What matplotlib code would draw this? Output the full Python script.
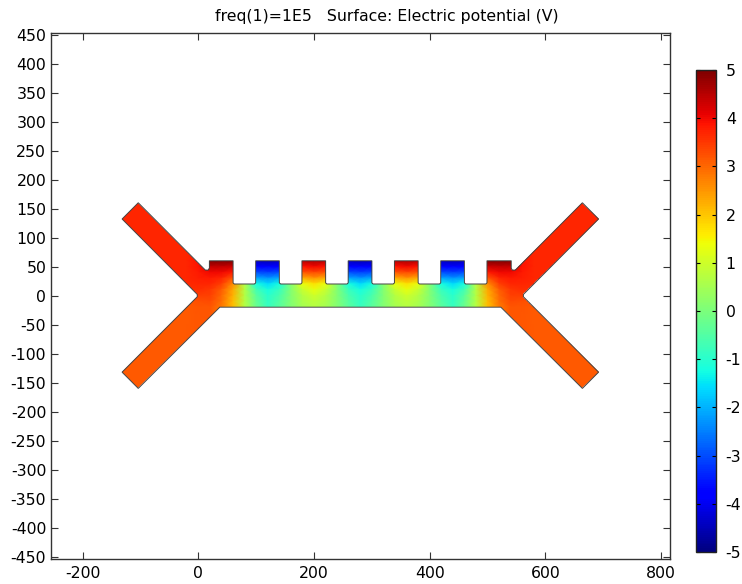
import numpy as np
from matplotlib import pyplot as plt
from matplotlib.patches import Polygon

plt.rcParams['font.family'] = 'DejaVu Sans'
plt.rcParams['axes.unicode_minus'] = False

title = "freq(1)=1E5   Surface: Electric potential (V)"
x_ticks = [-200, 0, 200, 400, 600, 800]
y_ticks = [-450, -400, -350, -300, -250, -200, -150, -100, -50, 0,
           50, 100, 150, 200, 250, 300, 350, 400, 450]
cbar_ticks = [-5, -4, -3, -2, -1, 0, 1, 2, 3, 4, 5]

# device outline, left half then right half (um)
outline_x = [-132, -104, 10, 12, 17, 19, 19, 60, 60, 62, 97, 99, 99, 140, 140, 142, 177, 179, 179, 220, 220, 222,
             257, 259, 259, 300, 300, 302, 337, 339, 339, 380, 380, 382, 417, 419, 419, 460, 460, 462, 497, 499,
             499, 541, 541, 543, 548, 550, 664, 692, 562, 562, 692, 664, 523, 37, -104, -132, -2, -2]
outline_y = [132, 160, 46, 44, 44, 47, 60, 60, 22, 20, 20, 22, 60, 60, 22, 20, 20, 22, 60, 60, 22, 20,
             20, 22, 60, 60, 22, 20, 20, 22, 60, 60, 22, 20, 20, 22, 60, 60, 22, 20, 20, 22,
             60, 60, 47, 44, 44, 46, 160, 132, 2, -2, -132, -160, -20, -20, -160, -132, -2, 2]

# potential, left half of the device, mirrored about x=280
grid_x = [-140, -20, 0, 20, 40, 60, 80, 100, 120, 140, 160, 180, 200, 220, 240, 260, 280]
v_p160 = [3.7, 3.7, 3.7, 3.7, 3.7, 3.7, 3.7, 3.7, 3.7, 3.7, 3.7, 3.7, 3.7, 3.7, 3.7, 3.7, 3.7]
v_p60 = [3.7, 3.7, 3.9, 5.0, 5.0, 5.0, 0.0, -4.4, -4.5, -4.4, 0.0, 4.5, 4.6, 4.5, 0.0, -4.4, -4.5]
v_p50 = [3.7, 3.7, 3.9, 4.4, 4.4, 4.3, 0.0, -3.8, -3.9, -3.8, 0.0, 3.9, 4.0, 3.9, 0.0, -3.8, -3.9]
v_p40 = [3.7, 3.7, 3.8, 4.0, 4.0, 3.8, 0.0, -3.0, -3.1, -3.0, 0.0, 3.2, 3.3, 3.2, 0.0, -3.0, -3.1]
v_p30 = [3.7, 3.7, 3.75, 3.8, 3.7, 3.2, 0.0, -2.1, -2.3, -2.1, 0.0, 2.3, 2.5, 2.3, 0.0, -2.1, -2.3]
v_p20 = [3.65, 3.65, 3.7, 3.7, 3.4, 2.6, 0.7, -1.2, -1.6, -1.2, 0.1, 1.3, 1.7, 1.3, 0.1, -1.2, -1.6]
v_p10 = [3.6, 3.6, 3.6, 3.5, 3.1, 2.3, 0.7, -0.7, -1.2, -0.8, 0.1, 0.9, 1.3, 0.9, 0.1, -0.8, -1.2]
v_0 = [3.4, 3.4, 3.4, 3.4, 3.0, 2.2, 0.7, -0.4, -1.0, -0.6, 0.1, 0.7, 1.0, 0.7, 0.1, -0.6, -1.0]
v_m10 = [3.2, 3.2, 3.25, 3.3, 2.9, 2.1, 0.7, -0.3, -0.9, -0.5, 0.1, 0.6, 0.8, 0.6, 0.1, -0.5, -0.9]
v_m20 = [3.15, 3.15, 3.2, 3.2, 2.8, 2.1, 0.7, -0.2, -0.8, -0.4, 0.1, 0.5, 0.7, 0.5, 0.1, -0.4, -0.8]
v_m160 = [3.15, 3.15, 3.15, 3.15, 3.15, 3.15, 3.15, 3.15, 3.15, 3.15, 3.15, 3.15, 3.15, 3.15, 3.15, 3.15, 3.15]
grid_y = [160, 60, 50, 40, 30, 20, 10, 0, -10, -20, -160]

half = np.array([v_p160, v_p60, v_p50, v_p40, v_p30, v_p20, v_p10, v_0, v_m10, v_m20, v_m160])
values = np.hstack([half, half[:, -2::-1]])
xs = np.array(grid_x + [560 - i for i in grid_x[-2::-1]])
ys = np.array(grid_y)

fig = plt.figure(figsize=(7.42, 5.84), dpi=100)
ax = fig.add_axes([51 / 742, 1 - 558.7 / 584, (670 - 51) / 742, (558.7 - 33) / 584])

mesh = ax.pcolormesh(xs, ys, values, shading='gouraud', cmap='jet', vmin=-5, vmax=5)
outline = Polygon(np.column_stack([outline_x, outline_y]), closed=True, facecolor='none',
                  edgecolor='#444444', linewidth=0.7, zorder=3)
ax.add_patch(outline)
mesh.set_clip_path(outline)

ax.set_xlim(-254.9, 815.5)
ax.set_ylim(-453.5, 452.6)
ax.set_xticks(x_ticks)
ax.set_yticks(y_ticks)
ax.tick_params(direction='in', top=True, right=True, length=5, width=0.8, labelsize=11.3, color='#333333')
ax.tick_params(axis='x', pad=5.5)
ax.tick_params(axis='y', pad=3.5)
for s in ax.spines.values():
    s.set_color('#333333')
    s.set_linewidth(1.0)

fig.text(386.5 / 742, 1 - 16 / 584, title, ha='center', va='center', fontsize=11.3)

cax = fig.add_axes([696 / 742, 1 - 552 / 584, 20 / 742, (552 - 70) / 584])
cbar = fig.colorbar(mesh, cax=cax, ticks=cbar_ticks)
cax.tick_params(direction='in', left=True, right=True, labelleft=False, labelright=True,
                length=3, width=0.8, labelsize=11.3, pad=7)
cbar.outline.set_edgecolor('#222222')
cbar.outline.set_linewidth(1.0)

fig.savefig('out.png', dpi=100)
